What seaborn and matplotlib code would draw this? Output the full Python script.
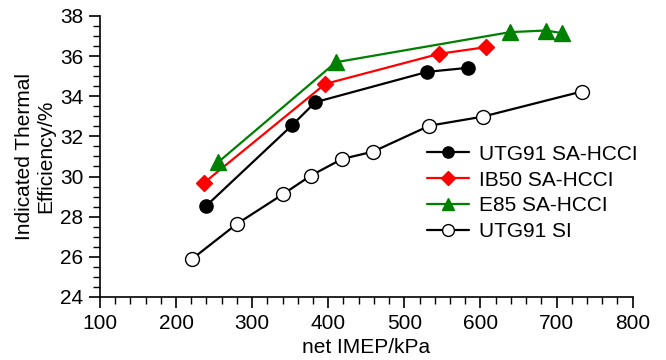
import matplotlib
matplotlib.use("Agg")
import matplotlib.pyplot as plt
from matplotlib.ticker import MultipleLocator
import seaborn as sns
import pandas as pd

# Indicated thermal efficiency vs. net IMEP for each fuel / combustion mode
utg91_hcci_imep = [240, 353, 383, 530, 583]
utg91_hcci_ite = [28.55, 32.57, 33.70, 35.21, 35.41]

ib50_hcci_imep = [237, 396, 546, 607]
ib50_hcci_ite = [29.69, 34.61, 36.11, 36.44]

e85_hcci_imep = [255, 410, 639, 686, 707]
e85_hcci_ite = [30.7, 35.69, 37.19, 37.27, 37.14]

utg91_si_imep = [221, 280, 341, 377, 418, 459, 533, 603, 733]
utg91_si_ite = [25.89, 27.64, 29.13, 30.04, 30.87, 31.24, 32.53, 32.98, 34.23]

labels = ["UTG91 SA-HCCI", "IB50 SA-HCCI", "E85 SA-HCCI", "UTG91 SI"]

sns.set_style("ticks")
plt.rcParams["font.family"] = ["Liberation Sans", "DejaVu Sans"]
plt.rcParams["text.color"] = "black"
plt.rcParams["axes.labelcolor"] = "black"
plt.rcParams["xtick.color"] = "black"
plt.rcParams["ytick.color"] = "black"

fig = plt.figure(figsize=(6.66, 3.6), dpi=100)
ax = fig.add_axes([0.150, 0.175, 0.800, 0.781])

series = [
    (utg91_hcci_imep, utg91_hcci_ite, labels[0], "black", "o", "black", 9.5),
    (ib50_hcci_imep, ib50_hcci_ite, labels[1], "red", "D", "red", 8.5),
    (e85_hcci_imep, e85_hcci_ite, labels[2], "green", "^", "green", 11),
    (utg91_si_imep, utg91_si_ite, labels[3], "black", "o", "white", 10),
]

for xs, ys, lab, col, mk, face, ms in series:
    df = pd.DataFrame({"imep": xs, "ite": ys})
    sns.lineplot(data=df, x="imep", y="ite", ax=ax, sort=False, color=col,
                 linewidth=1.6, marker=mk, markersize=ms,
                 markerfacecolor=face, markeredgecolor=col if face != "white" else "black",
                 markeredgewidth=1.0, label=lab)

ax.set_xlim(100, 800)
ax.set_ylim(24, 38)
ax.xaxis.set_major_locator(MultipleLocator(100))
ax.xaxis.set_minor_locator(MultipleLocator(20))
ax.yaxis.set_major_locator(MultipleLocator(2))
ax.yaxis.set_minor_locator(MultipleLocator(0.5))

for side in ["top", "right"]:
    ax.spines[side].set_visible(False)
for side in ["left", "bottom"]:
    ax.spines[side].set_linewidth(1.2)
    ax.spines[side].set_color("black")

ax.tick_params(which="major", direction="out", length=8, width=1.2, color="black",
               labelsize=15, pad=4)
ax.tick_params(which="minor", direction="out", length=5, width=1.0, color="black")

ax.set_xlabel("net IMEP/kPa", fontsize=15, labelpad=4)
ax.set_ylabel("Indicated Thermal\nEfficiency/%", fontsize=15, labelpad=3)

ax.legend(loc="upper left", bbox_to_anchor=(0.641, 0.598),
          bbox_transform=fig.transFigure, frameon=False, fontsize=15,
          handlelength=2.0, handletextpad=0.5, labelspacing=0.33,
          markerscale=0.85, borderpad=0, borderaxespad=0)

fig.savefig("out.png", dpi=100)
